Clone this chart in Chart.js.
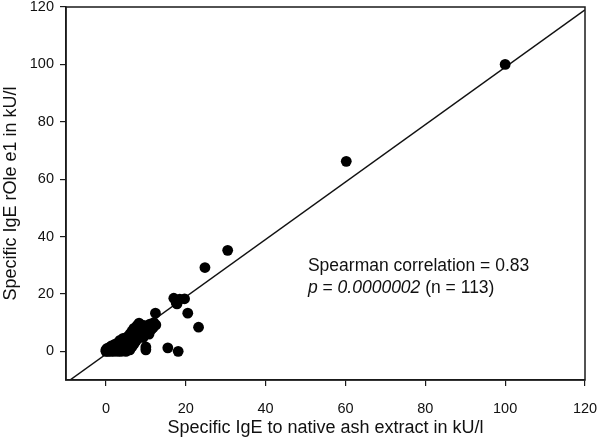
<!DOCTYPE html>
<html>
<head>
<meta charset="utf-8">
<script src="https://cdn.jsdelivr.net/npm/chart.js@4/dist/chart.umd.min.js"></script>
<style>
html,body{margin:0;padding:0;background:#fff;}
#wrap{width:598px;height:441px;position:relative;}
</style>
</head>
<body>
<div id="wrap"><canvas id="c" width="598" height="441"></canvas></div>
<script>
// Specific IgE to native ash extract (kU/l)
const ashIgE = [100, 60.2, 30.5, 24.8,
  17, 17.6, 18.5, 19.7, 17.8,
  20.5, 12.4, 23.2,
  15.5, 18.1, 10, 10,
  0, 0, 0.3, 0.5, 1, 1, 1.2, 1.5, 1.8, 2, 2, 2.3, 2.5, 2.8, 3, 3, 3.3, 3.5, 3.8,
  4, 4, 4.3, 4.5, 4.8, 5, 5, 5.3, 5.5, 5.8, 6, 6, 6.3, 6.5, 6.5, 6.8, 7, 7, 7.3,
  7.5, 7.8, 8, 8, 8.3, 8.5, 8.8, 9, 9.3, 9.5, 10, 10.3, 10.8, 11, 11.3, 12, 12.5,
  11.8, 5.5, 3.5, 6, 7.5];
// Specific IgE rOle e1 (kU/l)
const rOleIgE = [100, 66.2, 35.2, 29.2,
  18.5, 17, 18.2, 18.3, 16.5,
  13.3, 13.3, 8.4,
  1.2, 0, 1.5, 0.5,
  0, 0.5, 1, 0, 0.3, 1.5, 0, 2, 0.8, 0, 1.5, 2.5, 0.5, 1.8, 0, 3, 1, 2.2, 0,
  3.5, 1.5, 4.5, 0.8, 2.5, 3.8, 0, 5, 1.5, 3, 6, 0.5, 4, 7, 1.5, 5.2, 2.5, 8, 6,
  3.5, 9, 4.5, 7, 9.8, 5.8, 8, 6.5, 4.8, 9, 7, 8.5, 6, 9.5, 7.5, 10, 9.2,
  8.2, 4.5, 3.8, 2.8, 7.5];
// reference line end points
const refLineX = [-9, 120];
const refLineY = [-10, 119];
// axis ticks
const xTickValues = [0, 20, 40, 60, 80, 100, 120];
const yTickValues = [0, 20, 40, 60, 80, 100, 120];
// annotation
const annotationLine1 = "Spearman correlation = 0.83";
const annotationLine2 = [["p", true], [" = ", false], ["0.0000002", true], [" (n = 113)", false]];
const annotationX = 50.6;
const annotationY1 = 29.6;
const annotationY2 = 22.0;

const FONT = "'Liberation Sans', Arial, sans-serif";

const points = ashIgE.map((x, i) => ({x: x, y: rOleIgE[i]}));
const linePts = refLineX.map((x, i) => ({x: x, y: refLineY[i]}));

const boxPlugin = {
  id: 'box',
  afterDatasetsDraw(chart) {
    const {ctx, chartArea: a, scales} = chart;
    ctx.save();
    ctx.strokeStyle = '#1a1a1a';
    ctx.lineWidth = 1.5;
    ctx.strokeRect(a.left, a.top, a.right - a.left, a.bottom - a.top);
    // annotation
    ctx.fillStyle = '#111';
    ctx.textBaseline = 'middle';
    ctx.textAlign = 'left';
    const px = scales.x.getPixelForValue(annotationX);
    ctx.font = "17.5px " + FONT;
    ctx.fillText(annotationLine1, px, scales.y.getPixelForValue(annotationY1));
    let cx = px;
    const y2 = scales.y.getPixelForValue(annotationY2);
    for (const [t, it] of annotationLine2) {
      ctx.font = (it ? "italic " : "") + "17.5px " + FONT;
      ctx.fillText(t, cx, y2);
      cx += ctx.measureText(t).width;
    }
    ctx.restore();
  }
};

function zeroPad(s) { s.paddingTop = 0; s.paddingBottom = 0; s.paddingLeft = 0; s.paddingRight = 0; }

new Chart(document.getElementById('c'), {
  type: 'scatter',
  data: {
    datasets: [
      {
        type: 'line',
        data: linePts,
        borderColor: '#111',
        borderWidth: 1.5,
        pointRadius: 0,
        fill: false,
        order: 2
      },
      {
        data: points,
        backgroundColor: '#000',
        borderColor: '#000',
        borderWidth: 0,
        pointRadius: 5.4,
        order: 1
      }
    ]
  },
  options: {
    responsive: false,
    animation: false,
    events: [],
    layout: {padding: {top: 7, right: 13, left: 0, bottom: 0}},
    plugins: {legend: {display: false}, tooltip: {enabled: false}},
    scales: {
      x: {
        type: 'linear',
        min: -10, max: 120,
        afterBuildTicks: s => { s.ticks = xTickValues.map(v => ({value: v})); },
        afterFit: s => { s.height = 61; zeroPad(s); },
        grid: {drawOnChartArea: false, drawTicks: true, tickLength: 6, color: '#1a1a1a', lineWidth: 1.2},
        border: {display: true, color: '#1a1a1a', width: 1.5},
        ticks: {color: '#111', font: {family: FONT, size: 14.5}, padding: 14, maxRotation: 0},
        title: {display: true, text: 'Specific IgE to native ash extract in kU/l', color: '#111',
                font: {family: FONT, size: 18}, padding: {top: 0, bottom: 2}}
      },
      y: {
        type: 'linear',
        min: -10, max: 120,
        afterBuildTicks: s => { s.ticks = yTickValues.map(v => ({value: v})); },
        afterFit: s => { s.width = 66; zeroPad(s); },
        grid: {drawOnChartArea: false, drawTicks: true, tickLength: 6, color: '#1a1a1a', lineWidth: 1.2},
        border: {display: true, color: '#1a1a1a', width: 1.5},
        ticks: {color: '#111', font: {family: FONT, size: 14.5}, padding: 6},
        title: {display: true, text: 'Specific IgE rOle e1 in kU/l', color: '#111',
                font: {family: FONT, size: 18}, padding: {top: 0, bottom: 0}}
      }
    }
  },
  plugins: [boxPlugin]
});
</script>
</body>
</html>
